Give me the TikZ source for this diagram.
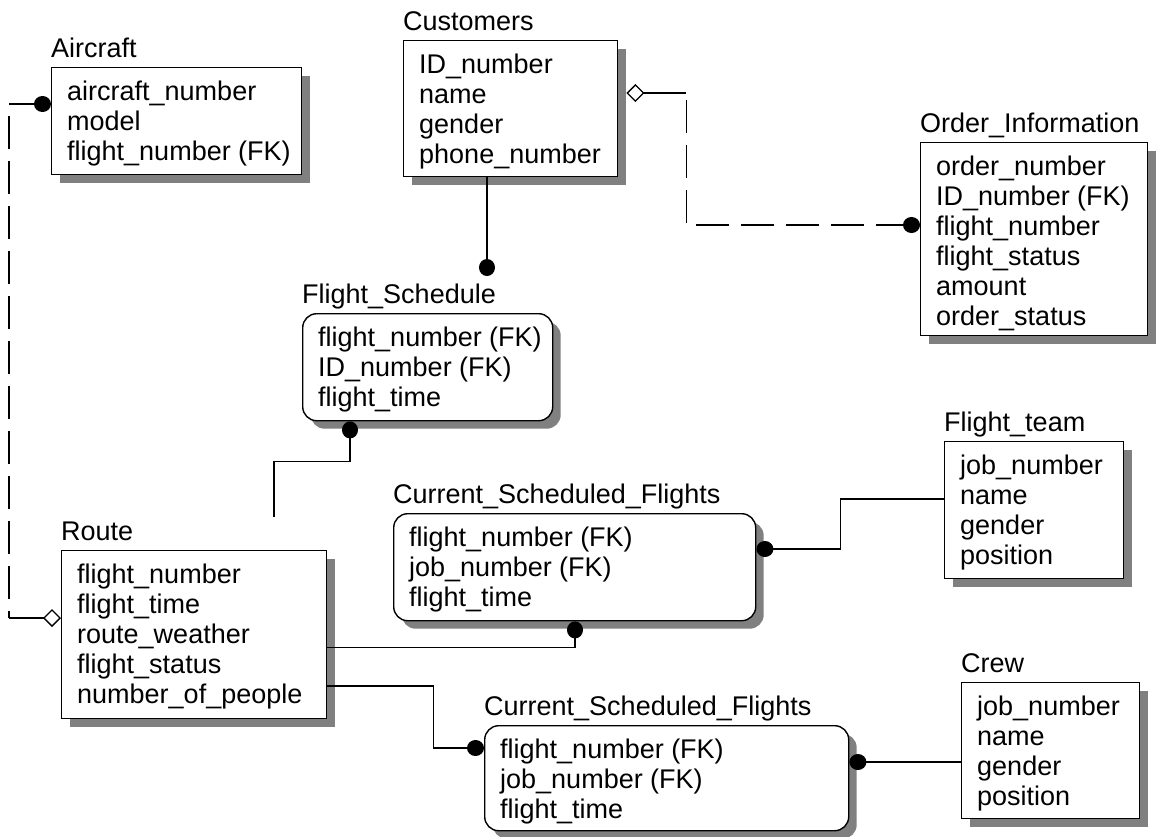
\documentclass[tikz,border=0pt]{standalone}
\usepackage{fontspec}
\setmainfont{Liberation Sans}
\usetikzlibrary{arrows.meta,shadows,calc}
\tikzset{
  ebox/.style={draw=black, line width=1.4pt, fill=white, inner sep=0pt,
     drop shadow={shadow xshift=8pt, shadow yshift=-8pt, opacity=1, fill=black!50}},
  sqbox/.style={ebox},
  rdbox/.style={ebox, rounded corners=14pt},
  ttl/.style={inner sep=0pt, font=\fontsize{27}{30}\selectfont},
  rowtxt/.style={inner sep=0pt, font=\fontsize{27}{30}\selectfont},
  rel/.style={line width=1.3pt, draw=black},
  dotend/.style={-{Circle[length=17pt,width=16pt]}},
  dotstart/.style={{Circle[length=17pt,width=16pt]}-},
  diastart/.style={{Diamond[open,length=18pt,width=18pt]}-},
  diaend/.style={-{Diamond[open,length=18pt,width=18pt]}},
  dashrel/.style={rel, dash pattern=on 33pt off 12pt},
}
\newcommand{\entity}[8]{%
  \node[#2, anchor=north west, minimum width={(#5-#3)*1pt}, minimum height={(#6-#4)*1pt}] (#1) at (#3,#4) {};
  \node[ttl, anchor=base west] (#1-t) at (#3,{#4-10}) {#7};
  \foreach \rw [count=\i] in {#8} {\node[rowtxt, anchor=base west] (#1-\i) at ({#3+16},{#4+3+30*\i}) {\rw};}
}
\begin{document}
\begin{tikzpicture}[x=1pt,y=-1pt]
\useasboundingbox (0,0) rectangle (1172,836);

\entity{aircraft}{sqbox}{51}{67}{301}{174}{Aircraft}{aircraft\_number,model,flight\_number (FK)}
\entity{customers}{sqbox}{403}{40}{617}{176}{Customers}{ID\_number,name,gender,phone\_number}
\entity{order}{sqbox}{920}{142}{1147}{335}{Order\_Information}{order\_number,ID\_number (FK),flight\_number,flight\_status,amount,order\_status}
\entity{fsched}{rdbox}{302}{313}{552}{420}{Flight\_Schedule}{flight\_number (FK),ID\_number (FK),flight\_time}
\entity{csf1}{rdbox}{393}{513}{755}{620}{Current\_Scheduled\_Flights}{flight\_number (FK),job\_number (FK),flight\_time}
\entity{route}{sqbox}{61}{550}{326}{718}{Route}{flight\_number,flight\_time,route\_weather,flight\_status,number\_of\_people}
\entity{csf2}{rdbox}{484}{725}{848}{830}{Current\_Scheduled\_Flights}{flight\_number (FK),job\_number (FK),flight\_time}
\entity{flightteam}{sqbox}{944}{441}{1123}{578}{Flight\_team}{job\_number,name,gender,position}
\entity{crew}{sqbox}{961}{682}{1139}{818}{Crew}{job\_number,name,gender,position}

% Aircraft - Route
\coordinate (k1) at ($(aircraft.north west)+(-42,37)$);
\coordinate (k2) at ($(route.north west)+(-52,68)$);
\draw[rel,dotend] (k1) -- (aircraft.west |- k1);
\draw[dashrel, dash phase=33pt] (k1) -- (k2);
\draw[rel,diaend] (k2) -- (route.west |- k2);

% Customers - Order_Information
\coordinate (k3) at ($(customers.north east)+(68,53)$);
\coordinate (k4) at ($(order.north west)+(0,83)$);
\coordinate (k4b) at ($(k4)+(-32,0)$);
\draw[rel,diastart] ($(customers.north east)+(8,53)$) -- (k3);
\draw[dashrel, dash phase=38pt] (k3) -- (k3 |- k4) -- (k4b);
\draw[rel,dotend] (k4b) -- (k4);

% Customers - Flight_Schedule
\coordinate (k5) at ($(fsched.north west)+(185,-37)$);
\draw[rel,dotend] (customers.south -| k5) -- (k5);

% Flight_Schedule - Route
\coordinate (k6) at ($(fsched.south west)+(48,40)$);
\coordinate (k7) at ($(route.north west)+(213,-33)$);
\draw[rel,dotstart] (fsched.south -| k6) -- (k6) -- (k7 |- k6) -- (k7);

% Current_Scheduled_Flights (1) - Flight_team
\coordinate (k8) at ($(csf1.north east)+(84,36)$);
\coordinate (k9) at ($(flightteam.north west)+(0,58)$);
\draw[rel,dotstart] (csf1.east |- k8) -- (k8) -- (k8 |- k9) -- (k9);

% Current_Scheduled_Flights (1) - Route
\coordinate (k10) at ($(csf1.south west)+(182,26)$);
\draw[rel,dotstart] (csf1.south -| k10) -- (k10) -- (route.east |- k10);

% Route - Current_Scheduled_Flights (2)
\coordinate (k11) at ($(route.north east)+(106,136)$);
\coordinate (k12) at ($(csf2.north west)+(0,23)$);
\draw[rel,dotend] (route.east |- k11) -- (k11) -- (k11 |- k12) -- (k12);

% Current_Scheduled_Flights (2) - Crew
\coordinate (k13) at ($(crew.north west)+(0,80)$);
\draw[rel,dotstart] (csf2.east |- k13) -- (k13);
\end{tikzpicture}
\end{document}
